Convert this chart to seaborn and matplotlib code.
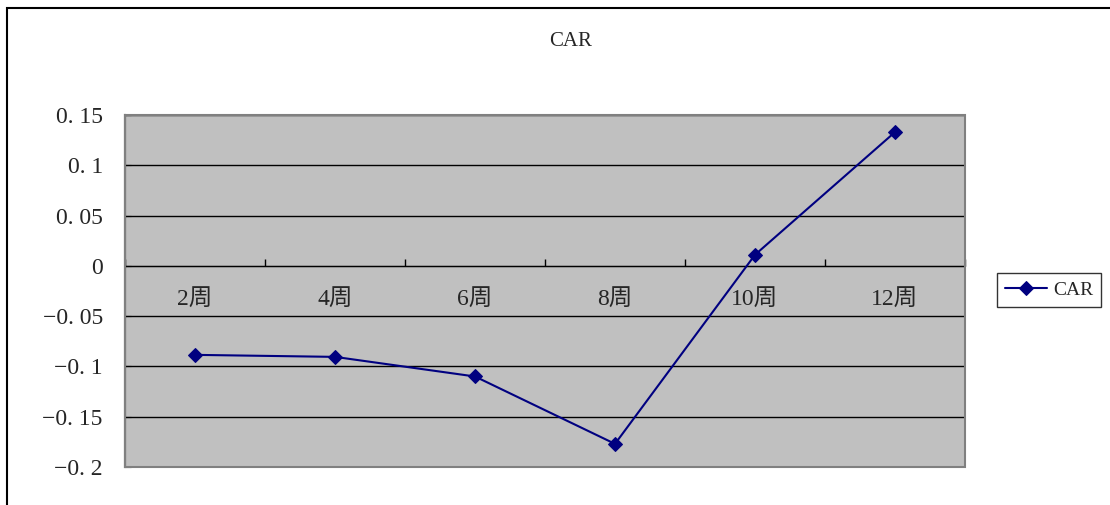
import matplotlib
matplotlib.use("Agg")
import matplotlib.pyplot as plt
import pandas as pd
import seaborn as sns
from matplotlib.patches import Rectangle

weeks = ["2周", "4周", "6周", "8周", "10周", "12周"]
car = [-0.0885, -0.0905, -0.110, -0.177, 0.011, 0.133]
y_ticks = [0.15, 0.1, 0.05, 0.0, -0.05, -0.1, -0.15, -0.2]
y_labels = ["0. 15", "0. 1", "0. 05", "0", "\u22120. 05", "\u22120. 1", "\u22120. 15", "\u22120. 2"]

sns.set_style("white")
plt.rcParams["font.family"] = ["Liberation Serif", "Noto Sans CJK SC", "DejaVu Sans"]

W, H = 1110, 505
fig = plt.figure(figsize=(W / 100, H / 100), dpi=100)
ax = fig.add_axes([125 / W, 1 - 467 / H, 840 / W, (467 - 115) / H])
ax.set_facecolor("#c0c0c0")

df = pd.DataFrame({"week": weeks, "CAR": car})
sns.lineplot(data=df, x="week", y="CAR", color="#000080", marker="D",
             markersize=7, markeredgecolor="#000080", linewidth=1.5,
             label="CAR", ax=ax, zorder=5)

ax.set_xlim(-0.5, len(weeks) - 0.5)
ax.set_ylim(-0.2, 0.15)

# horizontal gridlines
for v in y_ticks:
    ax.axhline(v, color="black", linewidth=1, zorder=1)

ax.set_yticks(y_ticks)
ax.set_yticklabels(y_labels, fontsize=17)
ax.tick_params(axis="y", left=True, direction="in", length=4, pad=16, color="black")

# category axis crosses at zero
ax.spines["bottom"].set_position(("data", 0))
ax.spines["bottom"].set_color("black")
ax.spines["bottom"].set_zorder(4)
ax.set_xticks([i - 0.5 for i in range(len(weeks) + 1)])
ax.set_xticklabels([])
ax.tick_params(axis="x", which="major", bottom=True, direction="in",
               length=5, width=1, color="black")
ax.set_xticks(range(len(weeks)), minor=True)
ax.set_xticklabels(weeks, minor=True, fontsize=17)
ax.tick_params(axis="x", which="minor", bottom=True, length=0, pad=17)

for s in ["top", "right"]:
    ax.spines[s].set_visible(False)
ax.spines["left"].set_color("black")
ax.spines["left"].set_linewidth(1.5)
ax.add_patch(Rectangle((0, 0), 1, 1, transform=ax.transAxes, fill=False,
                       edgecolor="#808080", linewidth=1.5, zorder=6, clip_on=False))

ax.set_xlabel("")
ax.set_ylabel("")

fig.text(571 / W, 1 - 42 / H, "CAR", ha="center", va="center", fontsize=15)

leg = ax.legend(loc="center left", bbox_to_anchor=(987 / W, 1 - 290 / H),
                bbox_transform=fig.transFigure, frameon=True, fancybox=False,
                fontsize=14, handlelength=2.2, handletextpad=0.3, borderpad=0.4)
leg.get_frame().set_edgecolor("black")
leg.get_frame().set_linewidth(1)

fig.patches.append(Rectangle((7 / W, -0.02), 1.0, 1 - 8 / H + 0.02,
                             transform=fig.transFigure, fill=False,
                             edgecolor="black", linewidth=1.5))

fig.savefig("out.png", dpi=100)
